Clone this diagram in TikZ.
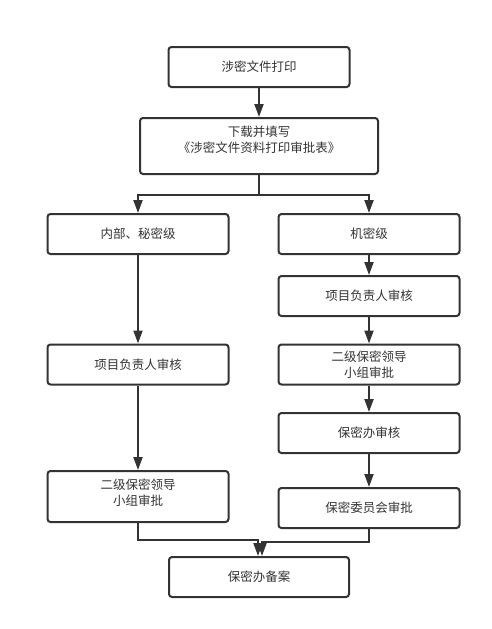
\documentclass[tikz,border=0pt]{standalone}
\usepackage{fontspec}
\setmainfont{Noto Sans CJK SC}
\usetikzlibrary{arrows.meta}
\definecolor{lineGray}{HTML}{333333}

\begin{document}
\begin{tikzpicture}[x=1pt,y=-1pt,%%
  boxStyle/.style={draw=lineGray,line width=2pt,rounded corners=3pt,fill=white,
    minimum width=\boxW,minimum height=\boxH,inner sep=0pt},%%
  textStyle/.style={text=lineGray,align=center,font=\fontsize{12.5}{16}\selectfont},%%
  arrowStyle/.style={-{Triangle[length=13pt,width=9pt]},draw=lineGray,line width=2pt}%%
]
%%
%%
\pgfmathsetmacro{\boxW}{181}
\pgfmathsetmacro{\boxH}{40}
\pgfmathsetmacro{\colL}{138}
\pgfmathsetmacro{\colR}{369}
\pgfmathsetmacro{\colM}{259}
%%
\fill[white] (0,0) rectangle (491,629);
\useasboundingbox (0,0) rectangle (491,629);
%% Top of the flow.
\node[boxStyle,textStyle] (print) at (\colM,67) {涉密文件打印};
\node[boxStyle,minimum width=238,minimum height=56] (form) at (\colM,146) {};
\node[textStyle] (formText) at (\colM,139.5) {下载并填写\\《涉密文件资料打印审批表》};
%% Left branch.
\node[boxStyle,textStyle] (secret) at (\colL,234) {内部、秘密级};
\node[boxStyle,textStyle] (leaderL) at (\colL,364.5) {项目负责人审核};
\node[boxStyle,minimum height=51] (groupL) at (\colL,496.5) {};
\node[textStyle] (groupLText) at (\colL,492.5) {二级保密领导\\小组审批};
%% Right branch.
\node[boxStyle,textStyle] (confidential) at (\colR,234) {机密级};
\node[boxStyle,textStyle] (leaderR) at (\colR,296) {项目负责人审核};
\node[boxStyle,textStyle] (groupR) at (\colR,364.5) {二级保密领导\\小组审批};
\node[boxStyle,textStyle] (officeR) at (\colR,433) {保密办审核};
\node[boxStyle,textStyle] (committee) at (\colR,508) {保密委员会审批};
%% Bottom of the flow.
\node[boxStyle,textStyle,minimum width=180] (archive) at (\colM,577) {保密办备案};
%%
%% Connectors.
\draw[arrowStyle] (print) -- (form);
\draw[arrowStyle] (form.south) -- ++(0,20) -| (secret.north);
\draw[arrowStyle] (form.south) -- ++(0,20) -| (confidential.north);
\draw[arrowStyle] (secret) -- (leaderL);
\draw[arrowStyle] (leaderL) -- (groupL);
\draw[arrowStyle] (confidential) -- (leaderR);
\draw[arrowStyle] (leaderR) -- (groupR);
\draw[arrowStyle] (groupR) -- (officeR);
\draw[arrowStyle] (officeR) -- (committee);
\draw[arrowStyle] (groupL.south) -- ++(0,17) -| ([xshift=-1]archive.north);
\draw[arrowStyle] (committee.south) -- ++(0,13) -| ([xshift=3]archive.north);
\end{tikzpicture}
\end{document}
